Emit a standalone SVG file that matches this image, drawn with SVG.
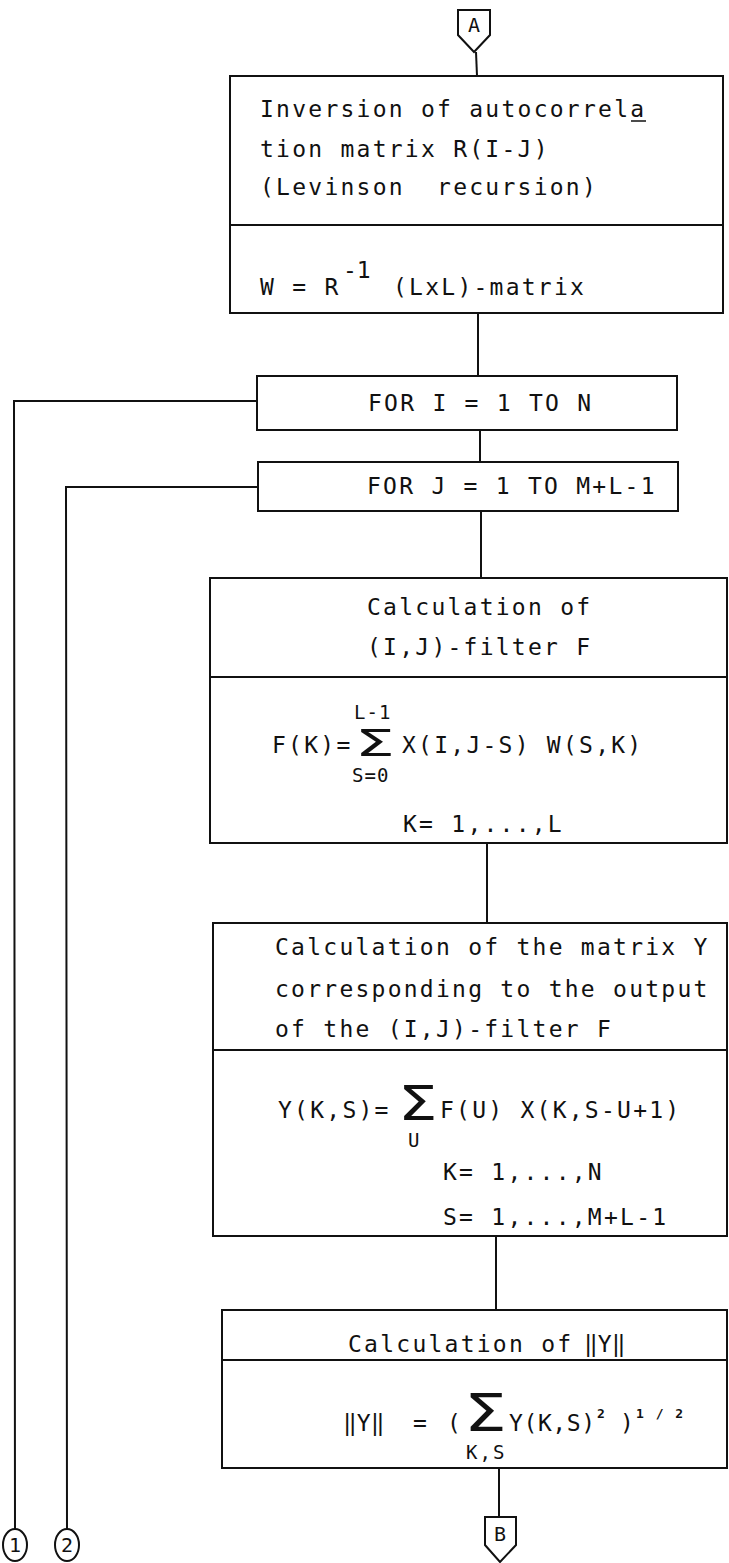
<svg xmlns="http://www.w3.org/2000/svg" width="729" height="1563" viewBox="0 0 729 1563">
  <style>
    .box { fill: none; stroke: #111; stroke-width: 2; }
    .ln { fill: none; stroke: #111; stroke-width: 2; }
    .t { font-family: "DejaVu Sans Mono", "Liberation Mono", monospace; font-size: 23px; letter-spacing: 2.25px; fill: #111; }
    .s { font-family: "DejaVu Sans Mono", "Liberation Mono", monospace; font-size: 19px; letter-spacing: 1px; fill: #111; }
    .sup { font-family: "DejaVu Sans Mono", "Liberation Mono", monospace; font-size: 13px; font-weight: bold; letter-spacing: 2px; fill: #111; }
    .sig { font-family: "DejaVu Sans", "Liberation Sans", sans-serif; fill: #111; }
    .tag { font-family: "DejaVu Sans Mono", "Liberation Mono", monospace; font-size: 20px; fill: #111; text-anchor: middle; }
  </style>

  <!-- connectors and loop return lines -->
  <g id="connectors">
    <line class="ln" x1="476" y1="52" x2="477" y2="76"/>
    <line class="ln" x1="478" y1="313" x2="478" y2="376"/>
    <line class="ln" x1="480" y1="430" x2="480" y2="462"/>
    <line class="ln" x1="481" y1="511" x2="481" y2="578"/>
    <line class="ln" x1="487" y1="843" x2="487" y2="923"/>
    <line class="ln" x1="496" y1="1236" x2="496" y2="1310"/>
    <line class="ln" x1="499" y1="1468" x2="499" y2="1517"/>
    <polyline class="ln" points="257,401 14,401 15,1529"/>
    <polyline class="ln" points="258,487 66,487 67,1529"/>
  </g>

  <!-- entry connector A -->
  <g id="conn-A">
    <polygon class="box" points="458,10 490,10 490,35 474,52 458,35"/>
    <text class="tag" x="474" y="32">A</text>
  </g>

  <!-- inversion of the autocorrelation matrix -->
  <g id="inversion">
    <rect class="box" x="230" y="76" width="493" height="237"/>
    <line class="ln" x1="230" y1="225" x2="723" y2="225"/>
    <text class="t" x="260" y="117">Inversion of autocorrela</text>
    <line class="ln" x1="631" y1="121" x2="646" y2="121" style="stroke-width:1.5"/>
    <text class="t" x="260" y="157">tion matrix R(I-J)</text>
    <text class="t" x="260" y="195" xml:space="preserve">(Levinson  recursion)</text>
    <text class="t" x="260" y="295">W = R</text>
    <text class="t" x="343" y="278" style="letter-spacing:0">-1</text>
    <text class="t" x="393" y="295">(LxL)-matrix</text>
  </g>

  <!-- outer loop -->
  <g id="loop-i">
    <rect class="box" x="257" y="376" width="420" height="54"/>
    <text class="t" x="368" y="411">FOR I = 1 TO N</text>
  </g>

  <!-- inner loop -->
  <g id="loop-j">
    <rect class="box" x="258" y="462" width="420" height="49"/>
    <text class="t" x="367" y="494">FOR J = 1 TO M+L-1</text>
  </g>

  <!-- filter calculation -->
  <g id="filter">
    <rect class="box" x="210" y="578" width="517" height="265"/>
    <line class="ln" x1="210" y1="677" x2="727" y2="677"/>
    <text class="t" x="367" y="615">Calculation of</text>
    <text class="t" x="367" y="655">(I,J)-filter F</text>
    <text class="t" x="272" y="753">F(K)=</text>
    <text class="sig" font-size="37" transform="translate(355,756) scale(1.7,1)">Σ</text>
    <text class="s" x="354" y="719">L-1</text>
    <text class="s" x="352" y="782">S=0</text>
    <text class="t" x="402" y="753">X(I,J-S) W(S,K)</text>
    <text class="t" x="403" y="832">K= 1,...,L</text>
  </g>

  <!-- filter output -->
  <g id="output">
    <rect class="box" x="213" y="923" width="514" height="313"/>
    <line class="ln" x1="213" y1="1050" x2="727" y2="1050"/>
    <text class="t" x="275" y="955">Calculation of the matrix Y</text>
    <text class="t" x="275" y="997">corresponding to the output</text>
    <text class="t" x="275" y="1037">of the (I,J)-filter F</text>
    <text class="t" x="278" y="1118">Y(K,S)=</text>
    <text class="sig" font-size="48" transform="translate(398,1120) scale(1.3,1)">Σ</text>
    <text class="s" x="408" y="1147">U</text>
    <text class="t" x="440" y="1118">F(U) X(K,S-U+1)</text>
    <text class="t" x="443" y="1180">K= 1,...,N</text>
    <text class="t" x="443" y="1225">S= 1,...,M+L-1</text>
  </g>

  <!-- norm calculation -->
  <g id="norm">
    <rect class="box" x="222" y="1310" width="505" height="158"/>
    <line class="ln" x1="222" y1="1360" x2="727" y2="1360"/>
    <text class="t" x="348" y="1352">Calculation of</text>
    <text class="t" x="584" y="1352" style="letter-spacing:0">‖Y‖</text>
    <text class="t" x="343" y="1431" style="letter-spacing:0">‖Y‖</text>
    <text class="t" x="413" y="1431">=</text>
    <text class="t" x="447" y="1431">(</text>
    <text class="sig" font-size="52" transform="translate(464,1431) scale(1.3,1)">Σ</text>
    <text class="t" x="509" y="1431" style="letter-spacing:0.6px">Y(K,S)</text>
    <text class="sup" x="597" y="1418">2</text>
    <text class="t" x="620" y="1431">)</text>
    <text class="sup" x="636" y="1418">1 / 2</text>
    <text class="s" x="466" y="1459" style="letter-spacing:2px">K,S</text>
  </g>

  <!-- exit connector B -->
  <g id="conn-B">
    <polygon class="box" points="485,1517 516,1517 516,1545 500,1562 485,1545"/>
    <text class="tag" x="500" y="1541">B</text>
  </g>

  <!-- loop continuation markers -->
  <g id="marker-1">
    <ellipse class="box" cx="15" cy="1545" rx="12" ry="16"/>
    <text class="tag" x="15" y="1552">1</text>
  </g>
  <g id="marker-2">
    <ellipse class="box" cx="67" cy="1545" rx="12" ry="16"/>
    <text class="tag" x="67" y="1552">2</text>
  </g>
</svg>
